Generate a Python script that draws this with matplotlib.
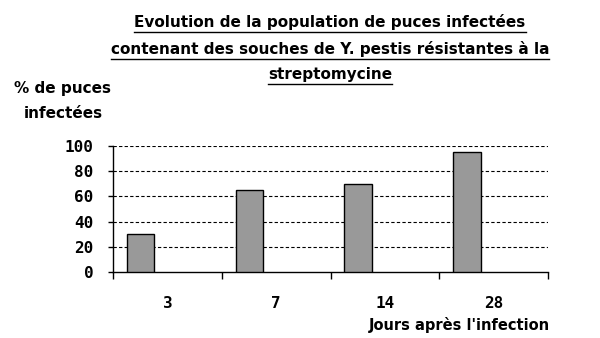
import numpy as np
import matplotlib
matplotlib.use("Agg")
import matplotlib.pyplot as plt
from matplotlib.lines import Line2D

# data
jours = ["3", "7", "14", "28"]
pct_infectees = [30, 65, 70, 95]
y_ticks = [0, 20, 40, 60, 80, 100]

title_lines = [
    "Evolution de la population de puces infectées",
    "contenant des souches de Y. pestis résistantes à la",
    "streptomycine",
]

fig = plt.figure(figsize=(6, 3.38), dpi=100)
ax = fig.add_axes([113 / 600, 1 - 272 / 338, 435 / 600, 126 / 338])

x = np.arange(len(jours))
# bars sit in the left part of each category (excel clustered layout)
ax.bar(x - 0.247, pct_infectees, width=0.253, color="#999999",
       edgecolor="black", linewidth=1.0, zorder=3)

ax.set_xlim(-0.5, len(jours) - 0.5)
ax.set_ylim(0, 100)
ax.set_yticks(y_ticks)
ax.set_yticklabels([str(v) for v in y_ticks], family="DejaVu Sans Mono",
                   fontweight="bold", fontsize=11.5)
ax.set_xticks(np.arange(len(jours) + 1) - 0.5)
ax.set_xticklabels([])
ax.set_xticks(x, minor=True)
ax.set_xticklabels(jours, minor=True, family="DejaVu Sans Mono",
                   fontweight="bold", fontsize=11.5)
ax.tick_params(axis="x", which="major", length=5, width=1, direction="out")
ax.tick_params(axis="x", which="minor", length=0, pad=17)
ax.tick_params(axis="y", length=3.6, width=1, direction="out", pad=10.5)

for g in y_ticks[1:]:
    ax.axhline(g, color="black", linestyle=(0, (3, 2)), linewidth=0.8, zorder=1)

ax.spines["top"].set_visible(False)
ax.spines["right"].set_visible(False)
ax.spines["left"].set_linewidth(1)
ax.spines["bottom"].set_linewidth(1)

tk = dict(fontsize=11, fontweight="bold", family="DejaVu Sans")
fig.text(14 / 600, 1 - 88 / 338, "% de puces", ha="left", va="center", **tk)
fig.text(24 / 600, 1 - 113 / 338, "infectées", ha="left", va="center", **tk)
fig.text(550 / 600, 1 - 325 / 338, "Jours après l'infection", ha="right",
         va="center", fontsize=10.5, fontweight="bold", family="DejaVu Sans")

# title with underline
title_y = [22, 49, 75]
texts = []
for line, yy in zip(title_lines, title_y):
    t = fig.text(330 / 600, 1 - yy / 338, line, ha="center", va="center", **tk)
    texts.append(t)

fig.canvas.draw()
r = fig.canvas.get_renderer()
for t in texts:
    bb = t.get_window_extent(r).transformed(fig.transFigure.inverted())
    yl = bb.y0 - 1.5 / 338
    fig.add_artist(Line2D([bb.x0, bb.x1], [yl, yl], color="black",
                          linewidth=1, transform=fig.transFigure))

fig.savefig("out.png", dpi=100)
